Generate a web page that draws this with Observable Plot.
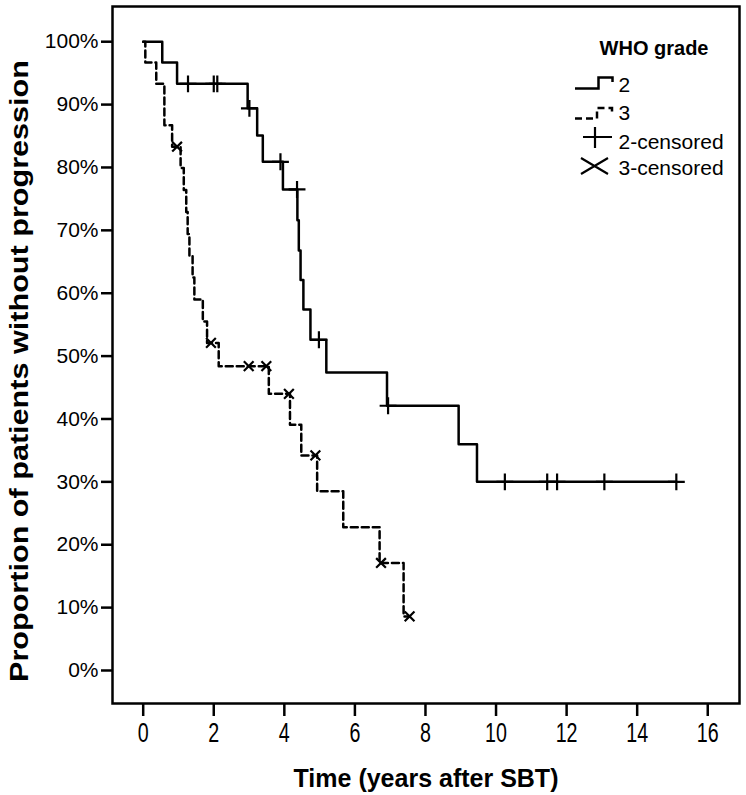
<!DOCTYPE html>
<html><head><meta charset="utf-8">
<script src="https://cdn.jsdelivr.net/npm/d3@7"></script>
<script src="https://cdn.jsdelivr.net/npm/@observablehq/plot@0.6"></script>
<style>body{margin:0;background:#fff} svg{display:block}</style>
</head><body><div id="chart"></div>
<script>
// Grade 2 (solid) step curve: time (years) and proportion (%)
const g2Time = [0, 0.54, 0.96, 2.96, 3.23, 3.39, 3.96, 4.37, 4.41, 4.46, 4.54, 4.74, 5.19, 6.91, 8.94, 9.46, 15.11];
const g2Surv = [100, 96.7, 93.3, 89.4, 85.1, 80.9, 76.5, 71.6, 66.8, 62.1, 57.4, 52.6, 47.4, 42.1, 36.0, 30.0, 30.0];
// Grade 2 censored
const g2CensTime = [1.27, 2.0, 2.1, 3.01, 3.89, 4.36, 4.98, 6.94, 10.25, 11.45, 11.73, 13.07, 15.11];
const g2CensSurv = [93.3, 93.3, 93.3, 89.4, 80.9, 76.5, 52.6, 42.1, 30.0, 30.0, 30.0, 30.0, 30.0];
// Grade 3 (dashed) step curve
const g3Time = [0, 0.06, 0.37, 0.60, 0.82, 1.06, 1.15, 1.22, 1.26, 1.31, 1.40, 1.45, 1.69, 1.81, 2.14, 3.56, 4.16, 4.48, 4.93, 5.67, 6.70, 7.38, 7.55];
const g3Surv = [100, 96.7, 93.3, 86.7, 83.3, 79.9, 76.4, 72.9, 69.4, 66.0, 62.5, 59.0, 55.5, 52.1, 48.4, 44.0, 39.1, 34.2, 28.5, 22.8, 17.1, 8.6, 8.6];
// Grade 3 censored
const g3CensTime = [0.96, 1.92, 2.99, 3.49, 4.13, 4.88, 6.74, 7.55];
const g3CensSurv = [83.3, 52.1, 48.4, 48.4, 44.0, 34.2, 17.1, 8.6];

const xTicks = [0, 2, 4, 6, 8, 10, 12, 14, 16];
const yTicks = [0, 10, 20, 30, 40, 50, 60, 70, 80, 90, 100];
const xTitle = "Time (years after SBT)";
const yTitle = "Proportion of patients without progression";
const legendTitle = "WHO grade";
const legendLabels = ["2", "3", "2-censored", "3-censored"];

const zip = (t, s) => t.map((v, i) => ({t: v, s: s[i]}));
const g2 = zip(g2Time, g2Surv), g3 = zip(g3Time, g3Surv);
const g2c = zip(g2CensTime, g2CensSurv), g3c = zip(g3CensTime, g3CensSurv);

const FONT = "'Liberation Sans', Arial, sans-serif";
const rowsDy = [79, 107, 136, 162]; // legend row offsets from the frame top

const chart = Plot.plot({
  width: 746, height: 795,
  marginTop: 6, marginBottom: 92, marginLeft: 112, marginRight: 7,
  style: {fontFamily: FONT, background: "#fff", color: "#000", overflow: "visible"},
  x: {domain: [-0.87, 16.9]},
  y: {domain: [-5.25, 105.6]},
  marks: [
    Plot.frame({stroke: "#000", strokeWidth: 2.5}),
    Plot.axisY(yTicks, {tickFormat: d => d + "%", tickSize: 11, tickPadding: 3, strokeWidth: 2.5, fontSize: 21, label: null}),
    Plot.axisX(xTicks, {tickSize: 13, tickPadding: 6, strokeWidth: 2.5, fontSize: 24, label: null}),
    Plot.line(g3, {x: "t", y: "s", curve: "step-after", stroke: "#000", strokeWidth: 2.5, strokeDasharray: "7,4"}),
    Plot.line(g2, {x: "t", y: "s", curve: "step-after", stroke: "#000", strokeWidth: 2.5}),
    Plot.dot(g2c, {x: "t", y: "s", symbol: "plus", r: 5.5, stroke: "#000", strokeWidth: 2.2}),
    Plot.dot(g3c, {x: "t", y: "s", symbol: "times", r: 4.5, stroke: "#000", strokeWidth: 2.2}),
    Plot.text([xTitle], {text: d => d, frameAnchor: "bottom", dy: 75, fontSize: 25, fontWeight: "bold", lineAnchor: "middle"}),
    Plot.text([yTitle], {text: d => d, frameAnchor: "left", dx: -93, dy: 16, rotate: -90, fontSize: 25, fontWeight: "bold", lineAnchor: "middle", textAnchor: "middle"}),
    Plot.text([legendTitle], {text: d => d, frameAnchor: "top-right", dx: -31, dy: 42, fontSize: 20, fontWeight: "bold", textAnchor: "end", lineAnchor: "middle"}),
    ...legendLabels.map((l, i) => Plot.text([l], {text: d => d, frameAnchor: "top-left", dx: 506, dy: rowsDy[i], fontSize: 21, textAnchor: "start", lineAnchor: "middle"}))
  ]
});
document.getElementById("chart").append(chart);

const svg = d3.select(chart);
// condensed, tall x tick labels as in the reference
svg.selectAll("g[aria-label='x-axis tick label'] text").each(function() {
  const t = this.getAttribute("transform") || "";
  this.setAttribute("transform", t + " scale(0.82,1.12)");
});
// stretched y title
svg.selectAll("text").filter(function() { return this.textContent === yTitle; })
  .attr("textLength", 622).attr("lengthAdjust", "spacingAndGlyphs");

// legend glyphs
const lg = svg.append("g").attr("fill", "none").attr("stroke", "#000").attr("stroke-width", 2.5);
lg.append("path").attr("d", "M575,88.5H598.5V77.5H612.5V82");
lg.append("path").attr("d", "M575,118.5H597V108H612V114").attr("stroke-dasharray", "7,4");
lg.append("path").attr("d", "M583,137H612M595,127V148").attr("stroke-width", 2.2);
lg.append("path").attr("d", "M581,158L608,174M581,174L608,158").attr("stroke-width", 2.2);
</script>
</body></html>
